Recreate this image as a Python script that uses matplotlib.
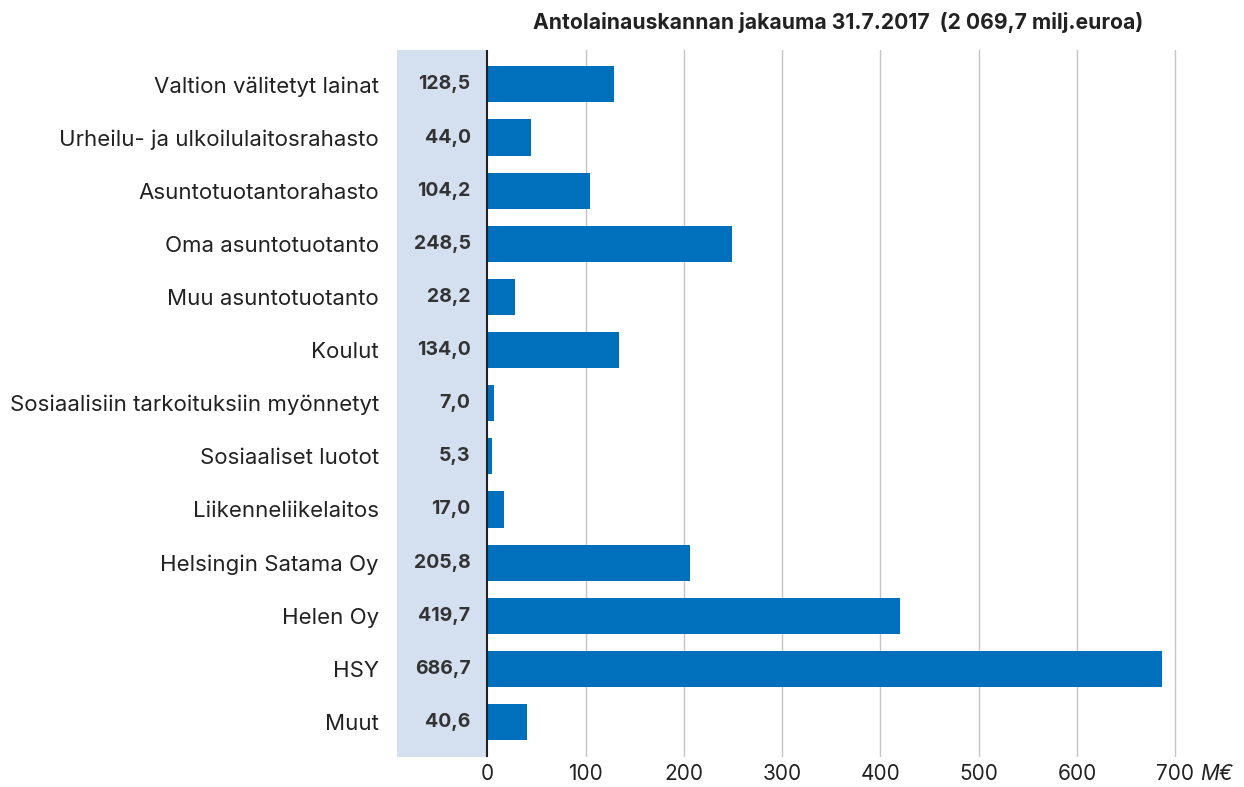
import matplotlib
matplotlib.use("Agg")
import matplotlib.pyplot as plt

categories = ["Valtion välitetyt lainat", "Urheilu- ja ulkoilulaitosrahasto",
              "Asuntotuotantorahasto", "Oma asuntotuotanto", "Muu asuntotuotanto",
              "Koulut", "Sosiaalisiin tarkoituksiin myönnetyt", "Sosiaaliset luotot",
              "Liikenneliikelaitos", "Helsingin Satama Oy", "Helen Oy", "HSY", "Muut"]
values = [128.5, 44.0, 104.2, 248.5, 28.2, 134.0, 7.0, 5.3, 17.0, 205.8, 419.7, 686.7, 40.6]
value_labels = ["128,5", "44,0", "104,2", "248,5", "28,2", "134,0", "7,0", "5,3",
                "17,0", "205,8", "419,7", "686,7", "40,6"]
xticks = [0, 100, 200, 300, 400, 500, 600, 700]
title = "Antolainauskannan jakauma 31.7.2017  (2 069,7 milj.euroa)"

plt.rcParams['font.family'] = ['Inter', 'DejaVu Sans']
text_col = "#222222"

fig = plt.figure(figsize=(12.44, 7.87), dpi=100)
ax = fig.add_axes([0.319, 0.038, 0.6297, 0.898])

y = list(range(len(categories)))
ax.axvspan(-92, 0, color="#d4dff0", zorder=0, lw=0)
for t in xticks[1:]:
    ax.axvline(t, color="#c4c4c4", lw=1, zorder=1)
ax.barh(y, values, height=0.68, color="#0070bc", zorder=2)
ax.axvline(0, color="#222222", lw=1.5, zorder=3)

for yi, lab in zip(y, value_labels):
    ax.text(-17, yi, lab, ha="right", va="center", fontsize=14,
            fontweight="bold", color="#333333")

ax.set_xlim(-92, 705)
ax.set_ylim(12.66, -0.64)
ax.set_yticks(y)
ax.set_yticklabels(categories, fontsize=16, color=text_col)
ax.set_xticks(xticks)
ax.set_xticklabels([str(t) for t in xticks], fontsize=15, color=text_col)
ax.tick_params(length=0)
ax.tick_params(axis="y", pad=13)
ax.tick_params(axis="x", pad=5)
for s in ax.spines.values():
    s.set_visible(False)

ax.annotate("M€", xy=(700, 0), xycoords=ax.get_xaxis_transform(),
            xytext=(18, -5), textcoords="offset points", ha="left", va="top",
            fontsize=15, fontstyle="italic", color=text_col)
fig.text(0.919, 0.972, title, ha="right", va="center", fontsize=15.2,
         fontweight="bold", color=text_col)

fig.savefig("out.png", dpi=100)
